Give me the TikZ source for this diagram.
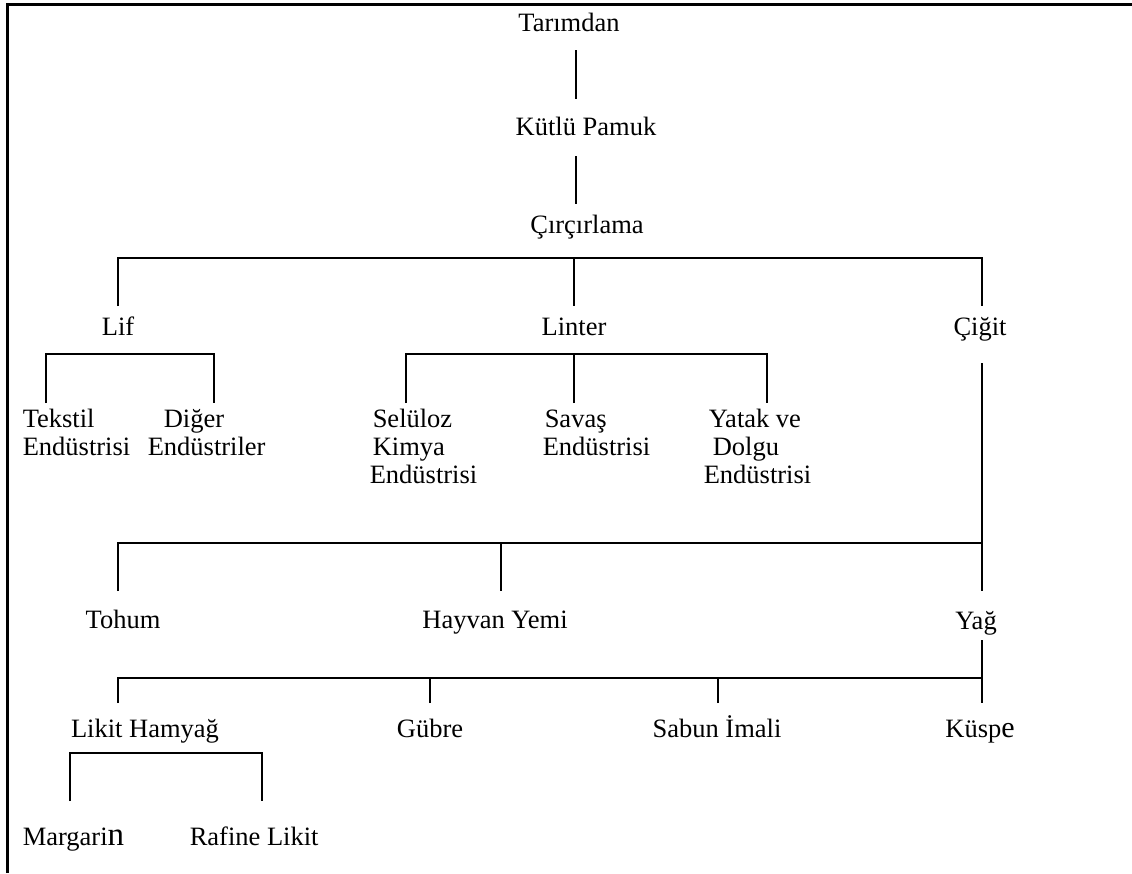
\documentclass[tikz,border=0pt]{standalone}
\usepackage{fontspec}
\setmainfont{Liberation Serif}
\begin{document}
\begin{tikzpicture}
   [x=1pt, y=-1pt, line width=1.5pt,
    item/.style={inner sep=0pt, font=\fontsize{26.5}{28}\selectfont, anchor=base},
    left item/.style={item, anchor=base west, align=left}]
   \useasboundingbox (0,0) rectangle (1132,873);
   % frame
   \draw[line width=3pt] (7.5,873) -- (7.5,4) -- (1132,4);

   % main line
   \node[item] (tarim) at (569,31) {Tarımdan};
   \node[item] (kutlu) at (586,135) {Kütlü Pamuk};
   \node[item] (circir) at (587,233) {Çırçırlama};
   \node[item] (lif) at (118,335) {Lif};
   \node[item] (linter) at (574,335) {Linter};
   \node[item] (cigit) at (980,335) {Çiğit};

   % fibre and linter products (base = last line)
   \node[left item] (tekstil) at (22,455) {Tekstil\\Endüstrisi};
   \node[left item] (diger) at (147,455) {\hspace*{16pt}Diğer\\Endüstriler};
   \node[left item] (seluloz) at (369,483) {\hspace*{3pt}Selüloz\\\hspace*{3pt}Kimya\\Endüstrisi};
   \node[left item] (savas) at (542,455) {\hspace*{2pt}Savaş\\Endüstrisi};
   \node[left item] (yatak) at (703,483) {\hspace*{5pt}Yatak ve\\\hspace*{9pt}Dolgu\\Endüstrisi};

   % seed products
   \node[item] (tohum) at (123,628) {Tohum};
   \node[item] (hayvan) at (495,628) {Hayvan Yemi};
   \node[item] (yag) at (976,629) {Yağ};
   \node[item] (likit) at (145,737) {Likit Hamyağ};
   \node[item] (gubre) at (430,737) {Gübre};
   \node[item] (sabun) at (717,737) {Sabun İmali};
   \node[item] (kuspe) at (980,737) {Küsp{\fontsize{30}{30}\selectfont e}};
   \node[left item] (margarin) at (22,845) {Margari{\fontsize{33}{33}\selectfont n}};
   \node[left item] (rafine) at (189,845) {Rafine Likit};

   % line ends
   \coordinate (tarim-s) at (576,50);
   \coordinate (kutlu-n) at (576,99);
   \coordinate (kutlu-s) at (576,156);
   \coordinate (circir-n) at (576,204);
   \coordinate (lif-n) at (118,306);
   \coordinate (linter-n) at (574,306);
   \coordinate (cigit-n) at (982,306);
   \coordinate (bar1-l) at (118,258);
   \coordinate (bar1-m) at (574,258);
   \coordinate (bar1-r) at (982,258);
   \coordinate (tekstil-n) at (46,403);
   \coordinate (diger-n) at (214,403);
   \coordinate (seluloz-n) at (406,403);
   \coordinate (savas-n) at (574,403);
   \coordinate (yatak-n) at (767,403);
   \coordinate (cigit-s) at (982,363);
   \coordinate (yag-n) at (982,591);
   \coordinate (tohum-n) at (118,591);
   \coordinate (hayvan-n) at (501,591);
   \coordinate (bar4-l) at (118,543);
   \coordinate (bar4-m) at (501,543);
   \coordinate (bar4-r) at (982,543);
   \coordinate (yag-s) at (982,640);
   \coordinate (likit-n) at (118,703);
   \coordinate (gubre-n) at (430,703);
   \coordinate (sabun-n) at (718,703);
   \coordinate (kuspe-n) at (982,703);
   \coordinate (margarin-n) at (70,801);
   \coordinate (rafine-n) at (262,801);

   % connectors
   \draw (tarim-s) -- (kutlu-n);
   \draw (kutlu-s) -- (circir-n);
   \draw (lif-n) |- (bar1-r) -- (cigit-n);
   \draw (bar1-m) -- (linter-n);
   \draw (tekstil-n) |- ++(0,-49) -| (diger-n);
   \draw (seluloz-n) |- ++(0,-49) -| (yatak-n);
   \draw (savas-n) -- ++(0,-49);
   \draw (cigit-s) -- (yag-n);
   \draw (tohum-n) |- (bar4-r);
   \draw (bar4-m) -- (hayvan-n);
   \draw (yag-s) -- (kuspe-n);
   \draw (likit-n) |- ++(0,-25) -| (kuspe-n);
   \draw (gubre-n) -- ++(0,-25);
   \draw (sabun-n) -- ++(0,-25);
   \draw (margarin-n) |- ++(0,-48) -| (rafine-n);
\end{tikzpicture}
\end{document}
